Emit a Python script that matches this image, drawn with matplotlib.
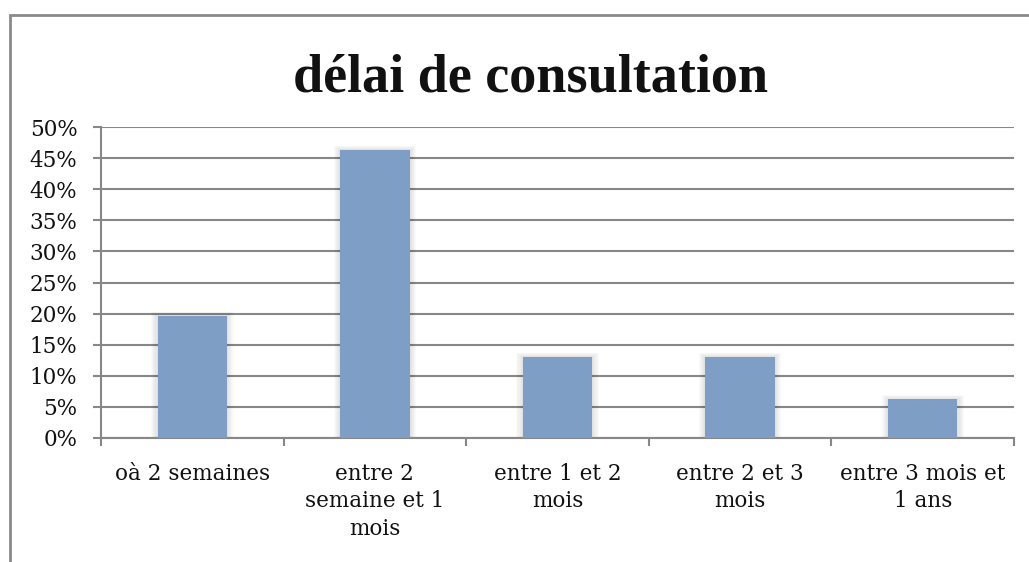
import matplotlib
matplotlib.use("Agg")
import matplotlib.pyplot as plt
from matplotlib.patches import Rectangle
from matplotlib.ticker import FuncFormatter, FixedLocator
import numpy as np

title = "délai de consultation"
categories = ["oà 2 semaines", "entre 2\nsemaine et 1\nmois", "entre 1 et 2\nmois",
              "entre 2 et 3\nmois", "entre 3 mois et\n1 ans"]
values = [19.6, 46.3, 13.0, 13.0, 6.2]   # percent
y_ticks = [0, 5, 10, 15, 20, 25, 30, 35, 40, 45, 50]

W, H = 1029, 562
fig = plt.figure(figsize=(W / 100, H / 100), dpi=100)
fig.patch.set_facecolor("white")

# outer chart frame (cropped at right and bottom)
frame = Rectangle((10 / W, -0.1), 1.2, 1 - 15 / H + 0.1, transform=fig.transFigure,
                  fill=False, edgecolor="#8a8a8a", linewidth=2.0)
fig.patches.append(frame)

ax = fig.add_axes([101 / W, 1 - 438 / H, (1014 - 101) / W, (438 - 127) / H])
x = np.arange(len(categories))
bar_w = 0.38
grid_c = "#878787"

# soft glow/shadow behind bars
for k in range(6, 0, -1):
    ax.bar(x, np.array(values) + 0.12 * k, width=bar_w + 0.012 * k,
           color="#000000", alpha=0.02, zorder=2, linewidth=0)
ax.bar(x, values, width=bar_w, color="#7f9ec6", zorder=3, linewidth=0)

ax.set_xlim(-0.5, len(categories) - 0.5)
ax.set_ylim(0, 50)
ax.yaxis.set_major_locator(FixedLocator(y_ticks))
ax.yaxis.set_major_formatter(FuncFormatter(lambda v, p: f"{int(v)}%"))
ax.grid(axis="y", color=grid_c, linewidth=1.5, zorder=1)
ax.set_axisbelow(True)

for s in ["top", "right"]:
    ax.spines[s].set_visible(False)
for s in ["left", "bottom"]:
    ax.spines[s].set_color(grid_c)
    ax.spines[s].set_linewidth(1.5)

# x axis: tick marks at category boundaries, labels at centers
ax.xaxis.set_major_locator(FixedLocator(np.arange(len(categories) + 1) - 0.5))
ax.xaxis.set_major_formatter(FuncFormatter(lambda v, p: ""))
ax.xaxis.set_minor_locator(FixedLocator(x))
ax.set_xticklabels(categories, minor=True)
ax.tick_params(axis="x", which="major", length=6, width=1.5, color=grid_c, direction="out")
ax.tick_params(axis="x", which="minor", length=0, pad=18)
ax.tick_params(axis="y", length=6, width=1.5, color=grid_c, direction="out", pad=11)

for lab in ax.get_xticklabels(minor=True):
    lab.set_fontfamily("DejaVu Serif")
    lab.set_fontsize(15.5)
    lab.set_linespacing(1.32)
    lab.set_color("#111111")
for lab in ax.get_yticklabels():
    lab.set_fontfamily("DejaVu Serif")
    lab.set_fontsize(15.5)
    lab.set_color("#111111")

fig.text((293 + 768) / 2 / W, 1 - 92 / H, title, ha="center", va="baseline",
         fontfamily="Liberation Serif", fontweight="bold", fontsize=39, color="#111111")

fig.savefig("out.png", dpi=100)
